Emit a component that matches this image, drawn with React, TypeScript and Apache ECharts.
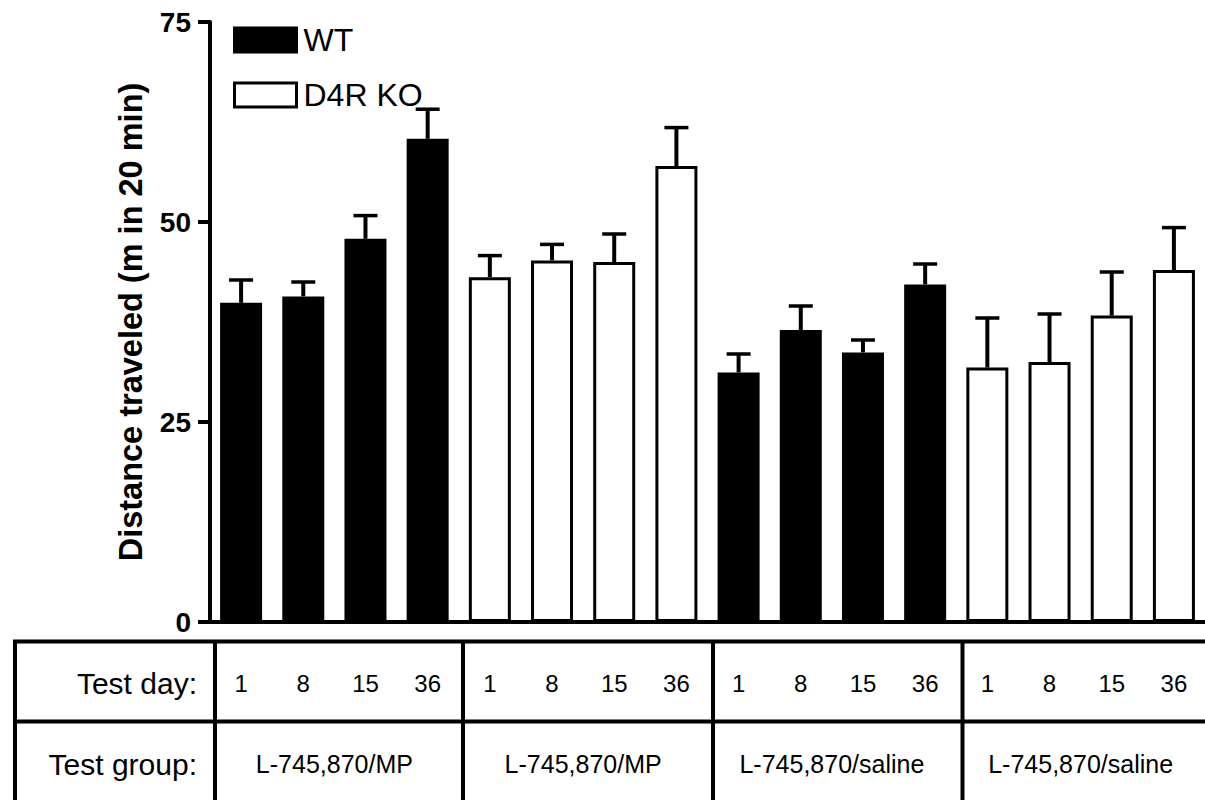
import React, { useEffect, useRef } from "react";
import * as echarts from "echarts";

// ---- data ----
const days = ["1", "8", "15", "36"];
const groupLabels = ["L-745,870/MP", "L-745,870/MP", "L-745,870/saline", "L-745,870/saline"];
const groupGenotype = ["WT", "D4R KO", "WT", "D4R KO"];
const means = [39.9, 40.7, 47.9, 60.4, 43.1, 45.2, 45.0, 57.0, 31.2, 36.5, 33.7, 42.2, 31.8, 32.5, 38.3, 44.0];
const sems = [2.85, 1.8, 2.9, 3.7, 2.7, 2.0, 3.5, 4.8, 2.3, 3.0, 1.55, 2.55, 6.2, 6.0, 5.45, 5.3];
const yTicks = [0, 25, 50, 75];
const seriesNames = ["WT", "D4R KO"];
const rowLabels = ["Test day:", "Test group:"];

const FONT = "'Liberation Sans', Arial, Helvetica, sans-serif";

export default function App() {
  const ref = useRef<HTMLDivElement>(null);

  useEffect(() => {
    document.body.style.margin = "0";
    const chart = echarts.init(ref.current!, null, { renderer: "svg" });

    const categories = groupLabels.flatMap(() => days);
    const genoOf = (i: number) => groupGenotype[Math.floor(i / days.length)];
    const wtData = means.map((v, i) => (genoOf(i) === "WT" ? v : "-"));
    const koData = means.map((v, i) => (genoOf(i) === "D4R KO" ? v : "-"));
    const errData = means.map((m, i) => [i, m, sems[i]]);

    const gridLeft = 210;
    const gridTop = 22;
    const gridHeight = 600;
    const bandW = 62.8;
    const gridWidth = bandW * categories.length;

    const tableTop = 641.5;
    const tableMid = 721.5;
    const sepXs = [215, 463, 713, 962.5];

    const graphics: any[] = [
      { type: "line", shape: { x1: 13, y1: tableTop, x2: 1205, y2: tableTop }, style: { stroke: "#000", lineWidth: 4 } },
      { type: "line", shape: { x1: 13, y1: tableMid, x2: 1205, y2: tableMid }, style: { stroke: "#000", lineWidth: 4 } },
      { type: "line", shape: { x1: 15, y1: tableTop, x2: 15, y2: 800 }, style: { stroke: "#000", lineWidth: 4 } },
      ...sepXs.map((x) => ({
        type: "line",
        shape: { x1: x, y1: tableTop, x2: x, y2: 800 },
        style: { stroke: "#000", lineWidth: 4 },
      })),
      {
        type: "text",
        style: { text: rowLabels[0], x: 197, y: 683, textAlign: "right", textVerticalAlign: "middle", font: `30px ${FONT}`, fill: "#000" },
      },
      {
        type: "text",
        style: { text: rowLabels[1], x: 197, y: 764, textAlign: "right", textVerticalAlign: "middle", font: `30px ${FONT}`, fill: "#000" },
      },
    ];

    chart.setOption({
      animation: false,
      backgroundColor: "#fff",
      textStyle: { fontFamily: FONT, color: "#000" },
      grid: { left: gridLeft, top: gridTop, width: gridWidth, height: gridHeight, containLabel: false },
      legend: {
        orient: "vertical",
        left: 233,
        top: 24,
        padding: 0,
        itemWidth: 62,
        itemHeight: 24,
        itemGap: 23,
        icon: "rect",
        textStyle: { fontSize: 32, color: "#000", fontFamily: FONT, padding: [0, 0, 0, 2] },
        data: [
          { name: seriesNames[0], itemStyle: { color: "#000", borderColor: "#000", borderWidth: 3 } },
          { name: seriesNames[1], itemStyle: { color: "#fff", borderColor: "#000", borderWidth: 3 } },
        ],
      },
      xAxis: [
        {
          type: "category",
          position: "bottom",
          data: categories,
          axisLine: { show: true, lineStyle: { color: "#000", width: 4 } },
          axisTick: { show: false },
          axisLabel: { interval: 0, fontSize: 24, color: "#000", margin: 61, verticalAlign: "middle", fontFamily: FONT },
          splitLine: { show: false },
        },
        {
          type: "category",
          position: "bottom",
          gridIndex: 0,
          data: groupLabels,
          axisLine: { show: false },
          axisTick: { show: false },
          axisLabel: { interval: 0, fontSize: 25, color: "#000", margin: 142, verticalAlign: "middle", fontFamily: FONT },
          splitLine: { show: false },
        },
      ],
      yAxis: {
        type: "value",
        min: yTicks[0],
        max: yTicks[yTicks.length - 1],
        interval: yTicks[1] - yTicks[0],
        name: "Distance traveled (m in 20 min)",
        nameLocation: "middle",
        nameRotate: 90,
        nameGap: 63,
        nameTextStyle: { fontSize: 32.5, fontWeight: "bold", color: "#000", fontFamily: FONT },
        axisLine: { show: true, lineStyle: { color: "#000", width: 4 } },
        axisTick: { show: true, length: 12, lineStyle: { color: "#000", width: 4 } },
        axisLabel: { fontSize: 28, fontWeight: "bold", color: "#000", margin: 19, fontFamily: FONT },
        splitLine: { show: false },
      },
      series: [
        {
          name: seriesNames[0],
          type: "bar",
          data: wtData,
          barWidth: 42,
          barGap: "-100%",
          itemStyle: { color: "#000", borderColor: "#000", borderWidth: 3 },
        },
        {
          name: seriesNames[1],
          type: "bar",
          data: koData,
          barWidth: 42,
          barGap: "-100%",
          itemStyle: { color: "#fff", borderColor: "#000", borderWidth: 3 },
        },
        {
          name: "SEM",
          type: "custom",
          data: errData,
          encode: { x: 0, y: 1 },
          z: 3,
          renderItem: (params: any, api: any) => {
            const idx = api.value(0);
            const m = api.value(1);
            const s = api.value(2);
            const base = api.coord([idx, m]);
            const top = api.coord([idx, m + s]);
            const half = 12;
            return {
              type: "group",
              children: [
                { type: "line", shape: { x1: base[0], y1: base[1], x2: top[0], y2: top[1] }, style: { stroke: "#000", lineWidth: 4 } },
                { type: "line", shape: { x1: top[0] - half, y1: top[1], x2: top[0] + half, y2: top[1] }, style: { stroke: "#000", lineWidth: 3.5 } },
              ],
            };
          },
        },
      ],
      graphic: graphics,
    });

    return () => chart.dispose();
  }, []);

  return <div ref={ref} style={{ width: 1205, height: 800 }} />;
}
